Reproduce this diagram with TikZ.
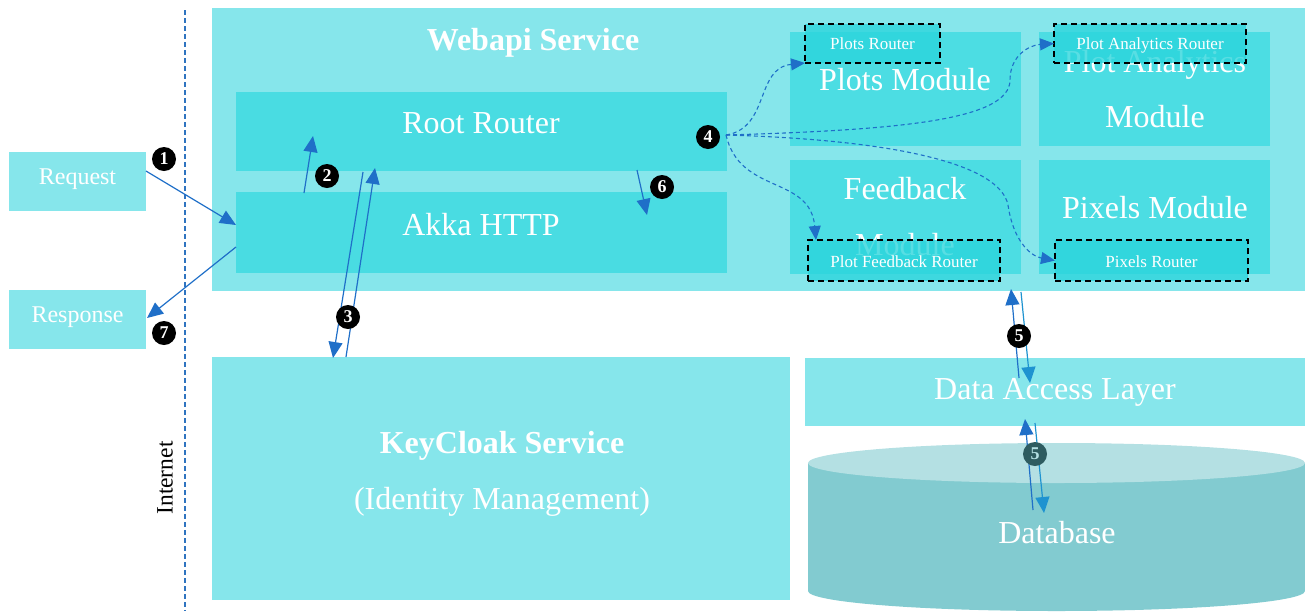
\documentclass[tikz,border=0pt]{standalone}
\usepackage{fontspec}
\setmainfont{Liberation Serif}
\usetikzlibrary{arrows.meta}
\definecolor{lightc}{HTML}{86E6EB}
\definecolor{midc}{HTML}{49DCE2}
\definecolor{modc}{HTML}{4CDDE3}
\definecolor{routc}{HTML}{2AD5DC}
\definecolor{dbtop}{HTML}{B4E0E3}
\definecolor{dbbody}{HTML}{82CBD0}
\definecolor{arrowc}{HTML}{1F6FC8}
\definecolor{arrowd}{HTML}{1E93D0}
\definecolor{sepc}{HTML}{2F74C0}
\definecolor{numdark}{HTML}{2E5C60}
\begin{document}
\begin{tikzpicture}[x=1pt,y=-1pt,
  box/.style={draw=none, inner sep=0, outer sep=0, anchor=north west},
  lbl/.style={text=white, inner sep=0, anchor=base},
  big/.style={font=\fontsize{32}{38}\selectfont},
  bigb/.style={font=\fontsize{32}{38}\selectfont\bfseries},
  mid/.style={font=\fontsize{24}{28}\selectfont},
  small/.style={font=\fontsize{17}{20}\selectfont},
  routbox/.style={box, fill=routc, fill opacity=0.78, draw=black, line width=1.8pt, dash pattern=on 6pt off 4pt},
  arr/.style={draw=arrowc, line width=1.2pt, -{Triangle[length=16pt,width=14pt]}},
  darr/.style={draw=arrowc, line width=1.1pt, dash pattern=on 4pt off 3pt, -{Triangle[length=14pt,width=12pt]}},
  num/.style={circle, fill=black, text=white, inner sep=0, minimum size=24pt, font=\fontsize{18}{18}\selectfont\bfseries}]
\useasboundingbox (0,0) rectangle (1305,611);

% separator
\coordinate (lt) at (185,10);
\coordinate (lb) at (185,611);
\draw[sepc, line width=1.3pt, dash pattern=on 5pt off 3pt] (lt) -- (lb);
\node[rotate=90, inner sep=0, font=\fontsize{23.5}{28}\selectfont] (inet) at (165,478) {Internet};

% request / response
\node[box, fill=lightc, minimum width=137pt, minimum height=59pt] (req) at (9,152) {};
\node[lbl, mid] (reqt) at (77.5,184) {Request};
\node[box, fill=lightc, minimum width=137pt, minimum height=59pt] (resp) at (9,290) {};
\node[lbl, mid] (respt) at (77.5,322) {Response};

% webapi
\node[box, fill=lightc, minimum width=1093pt, minimum height=283pt] (web) at (212,8) {};
\node[lbl, bigb] (webt) at (533,50) {Webapi Service};
\node[box, fill=midc, minimum width=491pt, minimum height=79pt] (rr) at (236,92) {};
\node[lbl, big] (rrt) at (481,133) {Root Router};
\node[box, fill=midc, minimum width=491pt, minimum height=81pt] (akka) at (236,192) {};
\node[lbl, big] (akkat) at (481,235) {Akka HTTP};

% modules
\node[box, fill=modc, minimum width=231pt, minimum height=114pt] (pm) at (790,32) {};
\node[lbl, big] (pmt) at (905,90) {Plots Module};
\node[box, fill=modc, minimum width=231pt, minimum height=114pt] (pam) at (1039,32) {};
\node[lbl, big] (pamt1) at (1155,72) {Plot Analytics};
\node[lbl, big] (pamt2) at (1155,127) {Module};
\node[box, fill=modc, minimum width=231pt, minimum height=114pt] (fm) at (790,160) {};
\node[lbl, big] (fmt1) at (905,199) {Feedback};
\node[lbl, big] (fmt2) at (905,255) {Module};
\node[box, fill=modc, minimum width=231pt, minimum height=114pt] (pxm) at (1039,160) {};
\node[lbl, big] (pxmt) at (1155,218) {Pixels Module};

% routers
\node[routbox, minimum width=135pt, minimum height=39pt] (pr) at (805,24) {};
\node[lbl, small] (prt) at (872.5,49) {Plots Router};
\node[routbox, minimum width=192pt, minimum height=39pt] (par) at (1054,24) {};
\node[lbl, small] (part) at (1150,49) {Plot Analytics Router};
\node[routbox, minimum width=192pt, minimum height=41pt] (pfr) at (808,240) {};
\node[lbl, small] (pfrt) at (904,267) {Plot Feedback Router};
\node[routbox, minimum width=193pt, minimum height=41pt] (pxr) at (1055,240) {};
\node[lbl, small] (pxrt) at (1151.5,267) {Pixels Router};

% keycloak
\node[box, fill=lightc, minimum width=578pt, minimum height=243pt] (kc) at (212,357) {};
\node[lbl, bigb] (kct1) at (502,453) {KeyCloak Service};
\node[lbl, big] (kct2) at (502,509) {(Identity Management)};

% data access layer
\node[box, fill=lightc, minimum width=500pt, minimum height=68pt] (dal) at (805,358) {};
\node[lbl, big] (dalt) at (1055,399) {Data Access Layer};

% database cylinder
\fill[dbbody] (808,463) -- (808,591) arc[start angle=180, end angle=360, x radius=248.5pt, y radius=20pt] -- (1305,463) -- cycle;
\fill[dbtop] (1056.5,463) ellipse [x radius=248.5pt, y radius=20pt];
\node[lbl, big] (dbt) at (1057,543) {Database};

% arrow endpoints
\coordinate (a1s) at (146,171); \coordinate (a1e) at (236,225);
\coordinate (a7s) at (236,247); \coordinate (a7e) at (147,318);
\coordinate (a2s) at (304,193); \coordinate (a2e) at (313,136);
\coordinate (a3as) at (363,172); \coordinate (a3ae) at (333,358);
\coordinate (a3bs) at (346,357); \coordinate (a3be) at (375,168);
\coordinate (a6s) at (637,170); \coordinate (a6e) at (647,215);
\coordinate (a5as) at (1019,378); \coordinate (a5ae) at (1011,289);
\coordinate (a5bs) at (1021,292); \coordinate (a5be) at (1030,383);
\coordinate (a5cs) at (1033,510); \coordinate (a5ce) at (1025,419);
\coordinate (a5ds) at (1035,423); \coordinate (a5de) at (1044,513);
\coordinate (s4) at (726,135);
\coordinate (pfin) at (816,240);

\draw[arr] (a1s) -- (a1e);
\draw[arr] (a7s) -- (a7e);
\draw[arr] (a2s) -- (a2e);
\draw[arr] (a3as) -- (a3ae);
\draw[arr] (a3bs) -- (a3be);
\draw[arr] (a6s) -- (a6e);
\draw[arr] (a5as) -- (a5ae);
\draw[arr, draw=arrowd] (a5bs) -- (a5be);
\draw[arr] (a5cs) -- (a5ce);
\draw[arr, draw=arrowd] (a5ds) -- (a5de);

% dashed routing curves
\draw[darr] (s4) .. controls (770,128) and (755,68) .. (pr.south west);
\draw[darr] (s4) .. controls (900,130) and (1010,120) .. (1010,80) .. controls (1010,55) and (1030,45) .. (par.west);
\draw[darr] (s4) .. controls (740,195) and (810,175) .. (pfin);
\draw[darr] (s4) .. controls (900,140) and (1000,165) .. (1008,205) .. controls (1013,240) and (1030,256) .. (pxr.west);

% numbers
\node[num] (n1) at (164,159) {1};
\node[num] (n2) at (327,176) {2};
\node[num] (n3) at (348,317) {3};
\node[num] (n4) at (708,137) {4};
\node[num] (n5) at (1019,336) {5};
\node[num] (n6) at (662,187) {6};
\node[num] (n7) at (164,333) {7};
\node[num, fill=numdark, text=dbtop] (n5b) at (1035,454) {5};
\end{tikzpicture}
\end{document}
